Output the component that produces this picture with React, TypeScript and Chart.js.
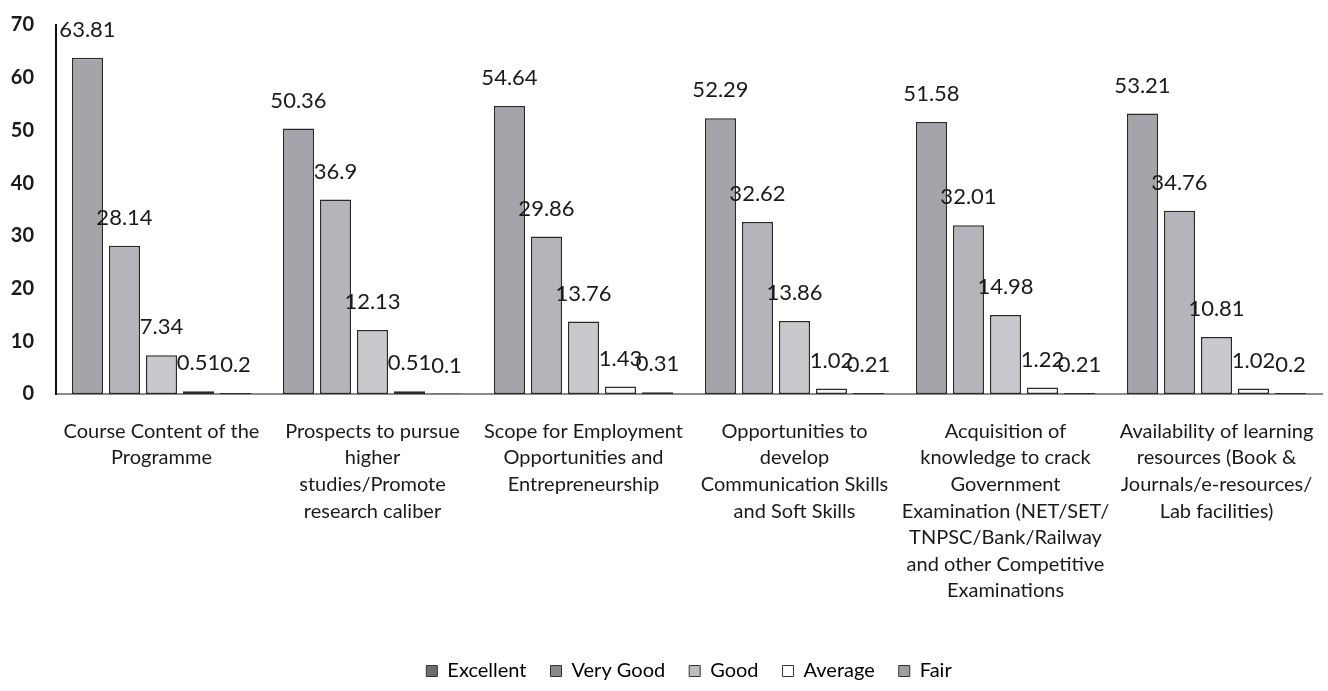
import React, { useEffect, useRef } from "react";
import { Chart, registerables } from "chart.js";

Chart.register(...registerables);

const categories: string[][] = [
  ["Course Content of the", "Programme"],
  ["Prospects to pursue", "higher", "studies/Promote", "research caliber"],
  ["Scope for Employment", "Opportunities and", "Entrepreneurship"],
  ["Opportunities to", "develop", "Communication Skills", "and Soft Skills"],
  ["Acquisition of", "knowledge to crack", "Government", "Examination (NET/SET/", "TNPSC/Bank/Railway", "and other Competitive", "Examinations"],
  ["Availability of learning", "resources (Book &", "Journals/e-resources/", "Lab facilities)"],
];

const seriesNames = ["Excellent", "Very Good", "Good", "Average", "Fair"];

const excellent = [63.81, 50.36, 54.64, 52.29, 51.58, 53.21];
const veryGood = [28.14, 36.9, 29.86, 32.62, 32.01, 34.76];
const good = [7.34, 12.13, 13.76, 13.86, 14.98, 10.81];
const average = [0.51, 0.51, 1.43, 1.02, 1.22, 1.02];
const fair = [0.2, 0.1, 0.31, 0.21, 0.21, 0.2];

const yTicks = [0, 10, 20, 30, 40, 50, 60, 70];

const seriesColors = ["#a4a4ab", "#b4b4ba", "#c9c9cd", "#f6f6f6", "#5e5e5e"];
const legendColors = ["#6e6e72", "#8a8a8e", "#bdbdc0", "#ffffff", "#a0a0a0"];

const FONT = "Lato, 'Open Sans', sans-serif";

const dataLabelPlugin = {
  id: "dataLabels",
  afterDatasetsDraw(chart: any) {
    const ctx = chart.ctx;
    ctx.save();
    ctx.font = `22px ${FONT}`;
    ctx.fillStyle = "#1a1a1a";
    ctx.textAlign = "center";
    ctx.textBaseline = "middle";
    chart.data.datasets.forEach((ds: any, i: number) => {
      const meta = chart.getDatasetMeta(i);
      meta.data.forEach((el: any, j: number) => {
        const v = ds.data[j];
        ctx.fillText(String(v), el.x, el.y - 28);
      });
    });
    ctx.restore();
  },
};

export default function App() {
  const ref = useRef<HTMLCanvasElement | null>(null);
  useEffect(() => {
    document.body.style.margin = "0";
    const all = [excellent, veryGood, good, average, fair];
    const chart = new Chart(ref.current!, {
      type: "bar",
      data: {
        labels: categories,
        datasets: all.map((d, i) => ({
          label: seriesNames[i],
          data: d,
          backgroundColor: seriesColors[i],
          borderColor: "#2a2a2a",
          borderWidth: 1.5,
          borderSkipped: false,
          barPercentage: 0.84,
          categoryPercentage: 0.877,
        })),
      },
      options: {
        animation: false,
        responsive: false,
        layout: { padding: { top: 25, right: 6, left: 0, bottom: 0 } },
        plugins: {
          legend: {
            position: "bottom",
            fullSize: false,
            labels: {
              font: { family: FONT, size: 20 },
              color: "#1a1a1a",
              boxWidth: 11,
              boxHeight: 11,
              padding: 24,
              generateLabels: () =>
                seriesNames.map((n, i) => ({
                  text: n,
                  fillStyle: legendColors[i],
                  strokeStyle: "#333",
                  lineWidth: 1,
                  hidden: false,
                  datasetIndex: i,
                })),
            },
          },
          tooltip: { enabled: false },
        },
        scales: {
          x: {
            grid: { display: false, drawTicks: false },
            border: { display: true, color: "#8a8a8a", width: 2 },
            ticks: {
              font: { family: FONT, size: 20, lineHeight: 1.33 },
              color: "#1a1a1a",
              padding: 24,
              maxRotation: 0,
              autoSkip: false,
            },
            afterFit: (s: any) => {
              s.height = 243;
              s.paddingLeft = 0;
              s.paddingRight = 0;
              s.paddingTop = 0;
              s.paddingBottom = 0;
            },
          },
          y: {
            min: 0,
            max: 70,
            grid: { display: false, drawTicks: false },
            border: { display: true, color: "#111", width: 2 },
            afterBuildTicks: (s: any) => {
              s.ticks = yTicks.map((v) => ({ value: v }));
            },
            ticks: {
              font: { family: FONT, size: 20, weight: "bold" },
              color: "#1a1a1a",
              padding: 22,
            },
            afterFit: (s: any) => {
              s.width = 56;
              s.paddingTop = 0;
              s.paddingBottom = 0;
            },
          },
        },
      },
      plugins: [dataLabelPlugin],
    });
    return () => chart.destroy();
  }, []);
  return (
    <div style={{ width: 1328, height: 691, background: "#fff" }}>
      <canvas ref={ref} width={1328} height={691} />
    </div>
  );
}
